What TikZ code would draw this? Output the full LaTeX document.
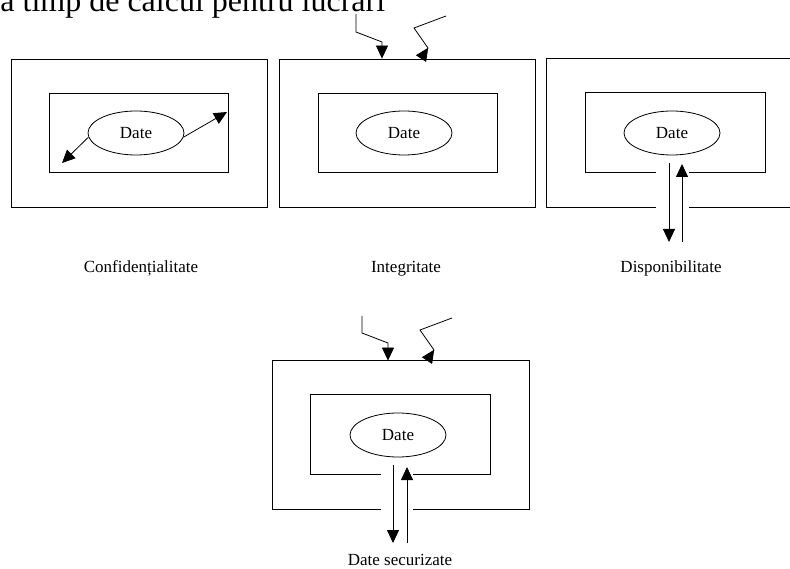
\documentclass[tikz,border=0pt]{standalone}
\usepackage{fontspec}
\setmainfont{Liberation Serif}
\usetikzlibrary{arrows.meta,shapes.geometric,calc}

\begin{document}
\begin{tikzpicture}[x=1pt,y=-1pt,
line width=0.8pt,
frame/.style={
rectangle,
minimum width=256pt,
minimum height=148pt,
inner sep=0pt
},
inner/.style={
rectangle,
minimum width=179pt,
minimum height=79pt,
inner sep=0pt
},
data/.style={
ellipse,draw,
minimum width=96pt,
minimum height=44pt,
inner sep=0pt,
font=\fontsize{17}{20}\selectfont
},
caption/.style={anchor=base,inner sep=0pt,font=\fontsize{17}{20}\selectfont},
arrow/.style={-{Triangle[length=13pt,width=12pt]}},
back/.style={-{Triangle[length=13pt,width=12pt,reversed]}}
]

\useasboundingbox (0,0) rectangle (790,569);
\clip (0,0) rectangle (790,569);

% =======================
% RUNNING TEXT (CUT AT TOP)
% =======================

\node[anchor=base west,inner sep=0pt,font=\fontsize{32}{36}\selectfont] (toptext) at (0,12)
{a timp de calcul pentru lucrări};

% =======================
% CONFIDENTIALITATE
% =======================

\node[frame,draw] (o1) at (139,133) {};
\node[inner,draw] (i1) at (138.5,132.5) {};
\node[data] (e1) at (136,133) {Date};

\coordinate (c1a) at (62,163);
\coordinate (c1b) at (227,112);
\draw[arrow] (e1.-175) -- (c1a);
\draw[arrow] (e1.-5) -- (c1b);

% =======================
% INTEGRITATE
% =======================

\node[frame,draw] (o2) at (407,133) {};
\node[inner,draw] (i2) at (407.5,132.5) {};
\node[data] (e2) at (404,133) {Date};

\coordinate (a2) at (356,14);
\coordinate (b2) at (446,16);
\draw[arrow] (a2) -- (356,32) -- (382,42) -- (382,0 |- o2.north);
\draw[back] (b2) -- (414,28) -- (428,48) -- (421,0 |- o2.north);

% =======================
% DISPONIBILITATE
% =======================

\node[frame] (o3) at (675,133) {};
\node[inner] (i3) at (675.5,132.5) {};
\node[data] (e3) at (672,133) {Date};

\draw (656,0 |- o3.south) -- (o3.south west) -- (o3.north west)
  -- (o3.north east) -- (o3.south east) -- (689,0 |- o3.south);
\draw (656,0 |- i3.south) -- (i3.south west) -- (i3.north west)
  -- (i3.north east) -- (i3.south east) -- (689,0 |- i3.south);

\coordinate (d3a) at (669,163);
\coordinate (d3b) at (669,242);
\coordinate (u3a) at (682,242);
\coordinate (u3b) at (682,164);
\draw[arrow] (d3a) -- (d3b);
\draw[arrow] (u3a) -- (u3b);

% =======================
% DATE SECURIZATE
% =======================

\node[frame] (o4) at (401,435) {};
\node[inner] (i4) at (400.5,434.5) {};
\node[data] (e4) at (398,435) {Date};

\draw (381,0 |- o4.south) -- (o4.south west) -- (o4.north west)
  -- (o4.north east) -- (o4.south east) -- (413,0 |- o4.south);
\draw (381,0 |- i4.south) -- (i4.south west) -- (i4.north west)
  -- (i4.north east) -- (i4.south east) -- (413,0 |- i4.south);

\coordinate (a4) at (362,316);
\coordinate (b4) at (452,318);
\draw[arrow] (a4) -- (362,333) -- (388,343) -- (388,0 |- o4.north);
\draw[back] (b4) -- (420,330) -- (434,350) -- (427,0 |- o4.north);

\coordinate (d4a) at (393,465);
\coordinate (d4b) at (393,543);
\coordinate (u4a) at (407,543);
\coordinate (u4b) at (407,467);
\draw[arrow] (d4a) -- (d4b);
\draw[arrow] (u4a) -- (u4b);

% =======================
% LABELS
% =======================

\node[caption] (l1) at (141,273) {Confidențialitate};
\node[caption] (l2) at (406,273) {Integritate};
\node[caption] (l3) at (671,273) {Disponibilitate};
\node[caption] (l4) at (400,565) {Date securizate};

\end{tikzpicture}
\end{document}
